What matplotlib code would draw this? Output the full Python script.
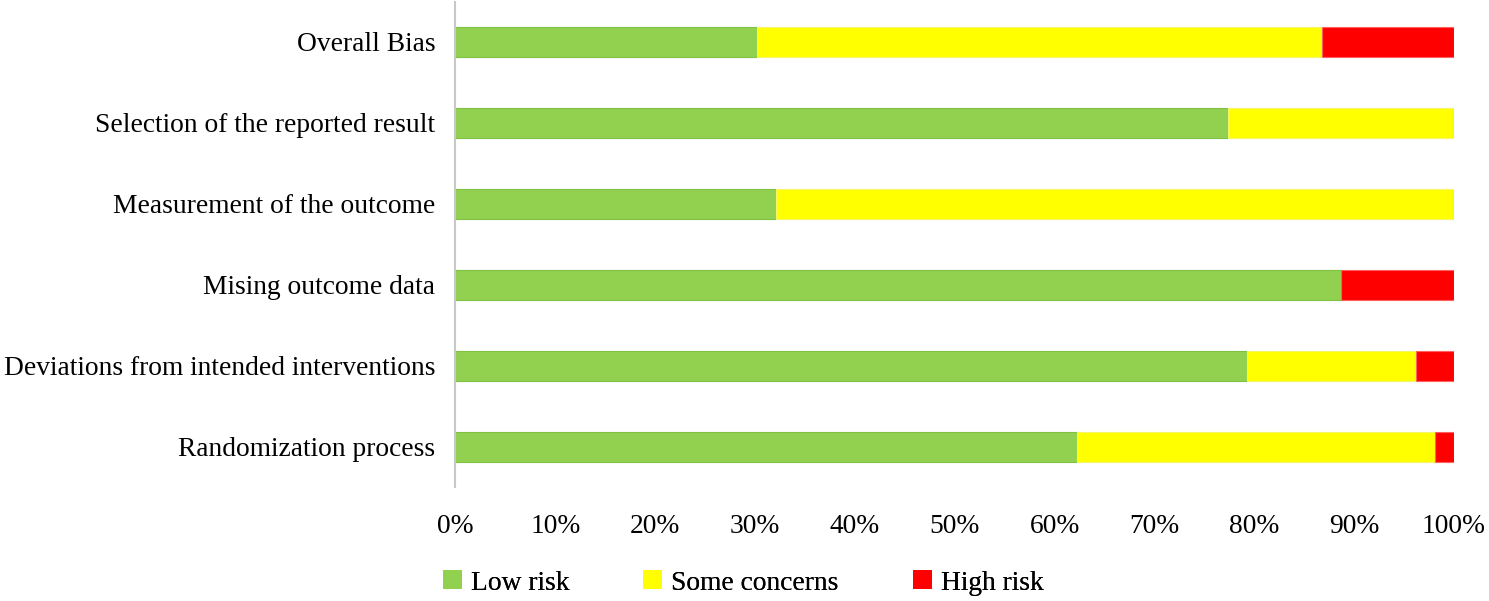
import matplotlib.pyplot as plt
from matplotlib.patches import Patch
import numpy as np

# domains, bottom to top
domains = ['Randomization process', 'Deviations from intended interventions',
           'Mising outcome data', 'Measurement of the outcome',
           'Selection of the reported result', 'Overall Bias']
# number of studies per judgement (53 studies)
low = np.array([33, 42, 47, 17, 41, 16])
some = np.array([19, 9, 0, 36, 12, 30])
high = np.array([1, 2, 6, 0, 0, 7])
labels = ['Low risk', 'Some concerns', 'High risk']
colors = ['#92D050', '#FFFF00', '#FF0000']
edges = ['#7fc241', '#f5f56a', '#ff6060']

total = low + some + high
parts = [low / total * 100, some / total * 100, high / total * 100]

plt.rcParams['font.family'] = ['Liberation Serif', 'DejaVu Serif']
fs = 19.8

fig = plt.figure(figsize=(14.89, 6.01), dpi=100)
ax = fig.add_axes([0.3059, 0.189, 0.6706, 0.8085])

y = np.arange(len(domains))
left = np.zeros(len(domains))
for vals, lab, c, ec in zip(parts, labels, colors, edges):
    ax.barh(y, vals, left=left, height=0.37, color=c, edgecolor=ec,
            linewidth=0.8, label=lab)
    left += vals

ax.set_xlim(0, 100)
ax.set_ylim(-0.5, 5.5)
ax.set_yticks(y)
ax.set_yticklabels(domains, fontsize=fs)
ax.set_xticks(np.arange(0, 101, 10))
ax.set_xticklabels(['{}%'.format(v) for v in range(0, 101, 10)], fontsize=fs)
ax.tick_params(axis='both', length=0)
ax.tick_params(axis='y', pad=14.5)
ax.tick_params(axis='x', pad=19)
for s in ['top', 'right', 'bottom']:
    ax.spines[s].set_visible(False)
ax.spines['left'].set_color('#c8c8c8')
ax.spines['left'].set_linewidth(1.5)

# legend entries placed one by one, like the original
leg_x = [443, 643, 913]
for lab, c, x in zip(labels, colors, leg_x):
    lg = fig.legend(handles=[Patch(facecolor=c, edgecolor='none')], labels=[lab],
                    loc='center left', bbox_to_anchor=(x / 1489, 1 - 583 / 601),
                    frameon=False, fontsize=fs, handlelength=0.68,
                    handleheight=0.68, handletextpad=0.33, borderpad=0,
                    borderaxespad=0)
    fig.add_artist(lg)

fig.savefig('out.png', dpi=100)
